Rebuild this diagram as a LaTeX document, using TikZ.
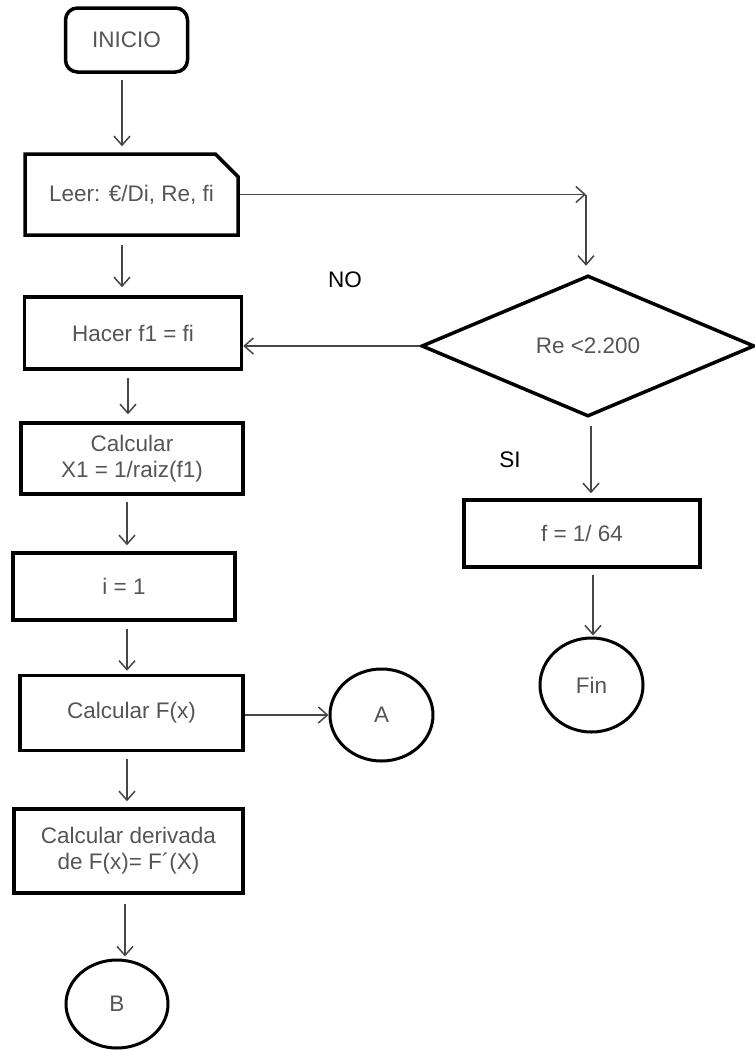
\documentclass[tikz,border=0pt]{standalone}
\usepackage{fontspec}
\setmainfont{Liberation Sans}
\usetikzlibrary{arrows.meta,shapes.geometric,shapes.misc}
\definecolor{txt}{RGB}{85,85,85}
\definecolor{wire}{RGB}{70,70,70}
\begin{document}
\begin{tikzpicture}[x=1pt,y=-1pt,
  every node/.style={font=\fontsize{22.5}{26}\selectfont, text=txt, align=center, inner sep=0pt},
  procbox/.style={draw=black, line width=3.5pt, rectangle},
  termbox/.style={draw=black, line width=3.5pt, rectangle, rounded corners=12pt},
  iobox/.style={draw=black, line width=3.5pt, chamfered rectangle,
    chamfered rectangle corners=north east, chamfered rectangle xsep=11pt, chamfered rectangle ysep=13pt},
  decbox/.style={draw=black, line width=3.5pt, diamond, aspect=2.36},
  connector/.style={draw=black, line width=3pt, ellipse},
  arr/.style={draw=wire, line width=1.5pt, -{Straight Barb[length=9pt,width=16pt,line width=1.5pt]}},
  lbl/.style={text=black}
]
\useasboundingbox (0,0) rectangle (755,1050);

% left column
\node[termbox, minimum width=122pt, minimum height=64pt] (inicio) at (126.5,40) {INICIO};
\node[iobox, minimum width=213pt, minimum height=81pt] (leer) at (131.5,194.5) {Leer: €/Di, Re, fi};
\node[procbox, minimum width=217pt, minimum height=72pt] (hacer) at (133,333) {Hacer f1 = fi};
\node[procbox, minimum width=222pt, minimum height=71pt] (calc1) at (132,458.5) {Calcular\\X1 = 1/raiz(f1)};
\node[procbox, minimum width=222pt, minimum height=67pt] (ione) at (124,586.5) {i = 1};
\node[procbox, minimum width=223pt, minimum height=75pt] (calcF) at (131.5,713) {Calcular F(x)};
\node[procbox, minimum width=229pt, minimum height=84pt] (deriv) at (128.5,851) {Calcular derivada\\de F(x)= F´(X)};
\node[connector, minimum width=102pt, minimum height=88pt] (B) at (117,1004) {B};
\node[connector, minimum width=103pt, minimum height=92pt] (A) at (381.5,715) {A};

% right column
\node[decbox, minimum width=333pt, minimum height=141pt] (dec) at (588,346) {Re <2.200};
\node[procbox, minimum width=236pt, minimum height=67pt] (fbox) at (582,533.5) {f = 1/ 64};
\node[connector, minimum width=103pt, minimum height=94pt] (fin) at (591.5,685) {Fin};

% branch labels
\node[lbl] (no) at (345,280) {NO};
\node[lbl] (si) at (510,460) {SI};

% flow
\draw[arr, shorten <=6pt, shorten >=6pt] ([xshift=-4.5pt]inicio.south) -- ([xshift=-4.5pt]inicio.south |- leer.north);
\draw[arr, shorten <=8pt, shorten >=8pt] ([xshift=-9.5pt]leer.south) -- ([xshift=-9.5pt]leer.south |- hacer.north);
\draw[arr, shorten <=7pt, shorten >=7pt] ([xshift=-5pt]hacer.south) -- ([xshift=-5pt]hacer.south |- calc1.north);
\draw[arr, shorten <=6pt, shorten >=6pt] ([xshift=-5pt]calc1.south) -- ([xshift=-5pt]calc1.south |- ione.north);
\draw[arr, shorten <=7pt, shorten >=3pt] ([xshift=3pt]ione.south) -- ([xshift=3pt]ione.south |- calcF.north);
\draw[arr, shorten <=7pt, shorten >=6pt] ([xshift=-4.5pt]calcF.south) -- ([xshift=-4.5pt]calcF.south |- deriv.north);
\draw[arr, shorten <=9pt, shorten >=2pt] ([xshift=-3.5pt]deriv.south) -- ([xshift=-3.5pt]deriv.south |- B.north);
\draw[arr] ([yshift=-2pt]calcF.east) -- ([yshift=-2pt]calcF.east -| A.west);

\draw[arr] (leer.east) -- ([xshift=-2pt]leer.east -| dec.north);
\draw[arr, shorten >=8pt] ([xshift=-2pt]leer.east -| dec.north) -- ([xshift=-2pt]dec.north);
\draw[arr] (dec.west) -- (dec.west -| hacer.east);
\draw[arr, shorten <=8pt, shorten >=5pt] ([xshift=3pt]dec.south) -- ([xshift=3pt]dec.south |- fbox.north);
\draw[arr, shorten <=6pt, shorten >=1pt] ([xshift=11pt]fbox.south) -- ([xshift=11pt]fbox.south |- fin.north);
\end{tikzpicture}
\end{document}
